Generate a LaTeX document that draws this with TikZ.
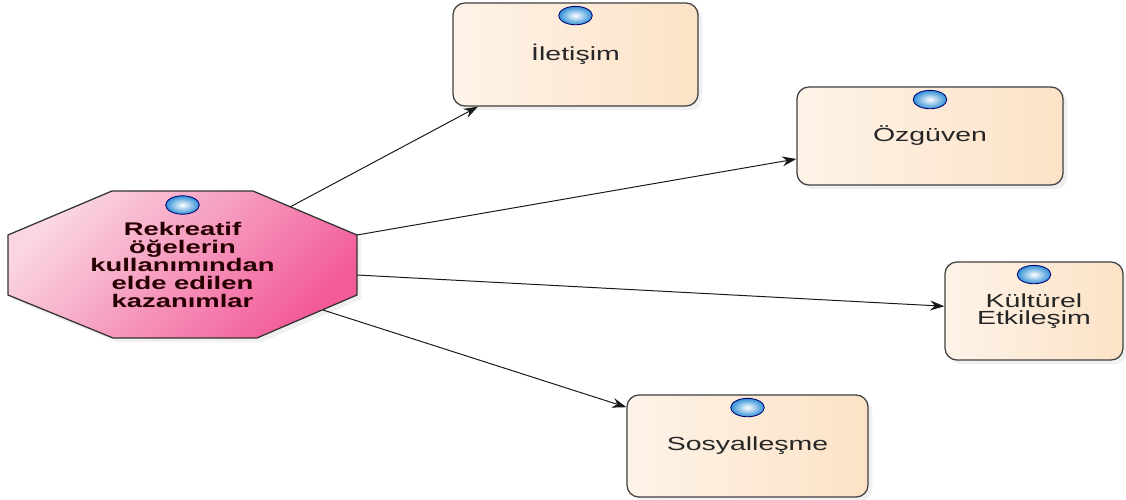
\documentclass[tikz,border=0pt]{standalone}
\usepackage{fontspec}
\setmainfont{Liberation Sans}[FakeStretch=1.5]
\usetikzlibrary{shadows,arrows.meta}

\definecolor{peach}{HTML}{FCE2C6}
\definecolor{rosa}{HTML}{FAD6E2}
\definecolor{fuchsia}{HTML}{F25A98}
\definecolor{knobblue}{HTML}{2F8FD6}

\tikzset{
  gainshape/.style={draw=black!80, line width=0.9pt,
    top color=rosa, bottom color=fuchsia, shading angle=45,
    drop shadow={opacity=0.12, shadow xshift=3pt, shadow yshift=-3pt}},
  gaintext/.style={align=center, inner sep=0pt, text=black!85!red,
    font=\bfseries\fontsize{13}{12.8}\selectfont},
  themebox/.style={rectangle, rounded corners=0.3cm, draw=black!75, line width=0.9pt,
    left color=peach!40, right color=peach, inner sep=0pt,
    drop shadow={opacity=0.12, shadow xshift=3pt, shadow yshift=-3pt},
    align=center, text=black!85, font=\fontsize{13.5}{12.5}\selectfont},
  knob/.style={draw=blue!45!black, line width=0.6pt, inner color=white, outer color=knobblue},
  arr/.style={-{Stealth[length=10pt,width=7pt]}, black!90, line width=0.7pt}
}

\begin{document}
\begin{tikzpicture}[x=0.025cm, y=-0.025cm]
\useasboundingbox (0,0) rectangle (1126,500);

% sekizgen
\shadedraw[gainshape]
(112,191)
-- (253,191)
-- (357,235)
-- (357,295)
-- (257,338)
-- (113,338)
-- (8,295)
-- (8,235)
-- cycle;

\node[gaintext] (gain) at (182.5,264.5)
  {Rekreatif\\ öğelerin\\ kullanımından\\ elde edilen\\ kazanımlar};

% okların çıkış noktaları
\coordinate (g1) at (290,207);
\coordinate (g2) at (357,235);
\coordinate (g3) at (357,275);
\coordinate (g4) at (323,310);

% kazanımlar
\node[themebox, minimum width=6.125cm, minimum height=2.575cm] (ilet) at (575.5,54.5) {İletişim};
\node[themebox, minimum width=6.65cm, minimum height=2.45cm] (ozg) at (930,136) {Özgüven};
\node[themebox, minimum width=4.45cm, minimum height=2.45cm] (kult) at (1034,311) {Kültürel\\ Etkileşim};
\node[themebox, minimum width=6.025cm, minimum height=2.55cm] (sos) at (747.5,446) {Sosyalleşme};

% düğmeler
\shadedraw[knob] (182.5,205) ellipse (0.42cm and 0.23cm);
\foreach \n in {ilet,ozg,kult,sos}
  \shadedraw[knob] ([yshift=-0.33cm]\n.north) ellipse (0.42cm and 0.23cm);

% oklar
\draw[arr] (g1) -- (ilet);
\draw[arr] (g2) -- (ozg);
\draw[arr] (g3) -- (kult);
\draw[arr] (g4) -- (sos);

\end{tikzpicture}
\end{document}
